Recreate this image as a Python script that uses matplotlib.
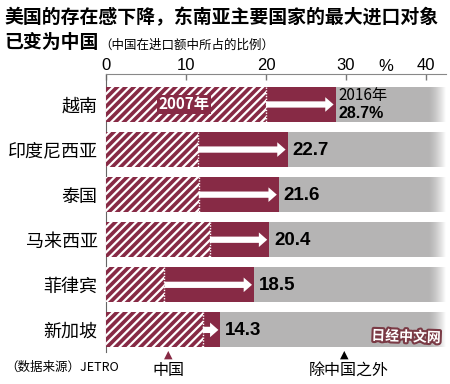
import matplotlib
matplotlib.use("Agg")
import matplotlib.pyplot as plt
import matplotlib.patheffects as pe
from matplotlib.patches import Rectangle
import numpy as np

plt.rcParams['font.family'] = ['Noto Sans CJK SC', 'DejaVu Sans']
plt.rcParams['hatch.linewidth'] = 1.6

countries = ["越南", "印度尼西亚", "泰国", "马来西亚", "菲律宾", "新加坡"]
share_2007 = [20.0, 11.5, 11.6, 13.0, 7.3, 12.1]
share_2016 = [28.7, 22.7, 21.6, 20.4, 18.5, 14.3]
value_labels = ["28.7%", "22.7", "21.6", "20.4", "18.5", "14.3"]
xticks = [0, 10, 20, 30, 40]

MAROON = "#872a45"
GRAY = "#b5b4b4"
XMAX = 42.5

W, H = 450, 384
fig = plt.figure(figsize=(W / 100, H / 100), dpi=100)
fig.patch.set_facecolor("white")

ax_top, ax_bot = 74, 352
ax = fig.add_axes([106 / W, 1 - ax_bot / H, (446 - 106) / W, (ax_bot - ax_top) / H])
ax.set_xlim(0, XMAX)
ax.set_ylim(5.49, -0.676)

bar_h = 0.776
for i, (c, a, b) in enumerate(zip(countries, share_2007, share_2016)):
    y0 = i - bar_h / 2
    ax.add_patch(Rectangle((0, y0), XMAX, bar_h, facecolor=GRAY, edgecolor="none", zorder=1))
    ax.add_patch(Rectangle((0, y0), b, bar_h, facecolor=MAROON, edgecolor="none", zorder=2))
    ax.add_patch(Rectangle((0, y0), a, bar_h, facecolor=MAROON, edgecolor="white",
                           hatch="////", linewidth=0, zorder=3))
    ax.plot([a, a], [y0, y0 + bar_h], color="white", linestyle=(0, (1, 1)), lw=1.0, zorder=4)
    ax.annotate("", xy=(b - 0.25, i), xytext=(a, i),
                arrowprops=dict(arrowstyle="simple,head_length=0.4,head_width=0.7,tail_width=0.3",
                                color="white", mutation_scale=15, shrinkA=0, shrinkB=0, lw=0),
                zorder=5)
    if i == 0:
        ax.text(b + 0.4, i - 0.21, "2016年", ha="left", va="center", fontsize=11,
                color="black", zorder=6)
        ax.text(b + 0.4, i + 0.19, value_labels[i], ha="left", va="center", fontsize=11.5,
                fontweight="bold", color="black", zorder=6, family="Liberation Sans")
        ax.text(9.75, i, "2007年", ha="center", va="center", fontsize=11,
                fontweight="bold", color="white", zorder=6,
                bbox=dict(facecolor=MAROON, edgecolor="none", boxstyle="square,pad=0.1"))
    else:
        ax.text(b + 0.6, i + 0.02, value_labels[i], ha="left", va="center", fontsize=13.5,
                fontweight="bold", color="black", zorder=6, family="Liberation Sans")

# right-edge fade of the gray background
grad = np.zeros((2, 64, 4))
grad[..., :3] = 1.0
grad[..., 3] = np.linspace(0, 1, 64) ** 1.5
ax.imshow(grad, extent=(40.3, XMAX, 5.49, -0.676), aspect="auto", zorder=7,
          interpolation="bilinear")
ax.set_xlim(0, XMAX)
ax.set_ylim(5.49, -0.676)

ax.set_yticks(range(len(countries)))
ax.set_yticklabels(countries, fontsize=13)
ax.tick_params(axis="y", length=0, pad=6)

ax.xaxis.tick_top()
ax.set_xticks(xticks)
ax.set_xticklabels([str(t) for t in xticks], fontsize=12, family="Liberation Sans")
ax.tick_params(axis="x", direction="in", length=4, width=1, color="#777777", pad=1)
ax.text(35, 1.0, "%", transform=ax.get_xaxis_transform(), ha="center", va="bottom",
        fontsize=12, family="Liberation Sans")

for s in ["right", "bottom"]:
    ax.spines[s].set_visible(False)
ax.spines["top"].set_color("#888888")
ax.spines["left"].set_color("#666666")
ax.spines["top"].set_zorder(10)
ax.set_facecolor("white")

# Title
fig.text(4 / W, 1 - 18 / H, "美国的存在感下降，东南亚主要国家的最大进口对象", fontsize=13.6,
         fontweight="heavy", ha="left", va="center")
fig.text(4 / W, 1 - 42 / H, "已变为中国", fontsize=13.6, fontweight="heavy", ha="left", va="center")
fig.text(99 / W, 1 - 45 / H, "（中国在进口额中所占的比例）", fontsize=9, ha="left", va="center")

# bottom annotations
fig.text(5 / W, 1 - 367 / H, "（数据来源）JETRO", fontsize=9, ha="left", va="center")
fig.text(168 / W, 1 - 355 / H, "▲", fontsize=8, color=MAROON, ha="center", va="center",
         family="DejaVu Sans")
fig.text(168 / W, 1 - 371 / H, "中国", fontsize=11.5, ha="center", va="center")
fig.text(344 / W, 1 - 355 / H, "▲", fontsize=8, color="black", ha="center", va="center",
         family="DejaVu Sans")
fig.text(349 / W, 1 - 371 / H, "除中国之外", fontsize=11.5, ha="center", va="center")

# watermark
fig.text(406 / W, 1 - 337 / H, "日经中文网", fontsize=10, fontweight="bold", color="white",
         ha="center", va="center", rotation=-2,
         path_effects=[pe.withStroke(linewidth=3, foreground="#7a3a45")])

fig.savefig("out.png", dpi=100, facecolor="white")
